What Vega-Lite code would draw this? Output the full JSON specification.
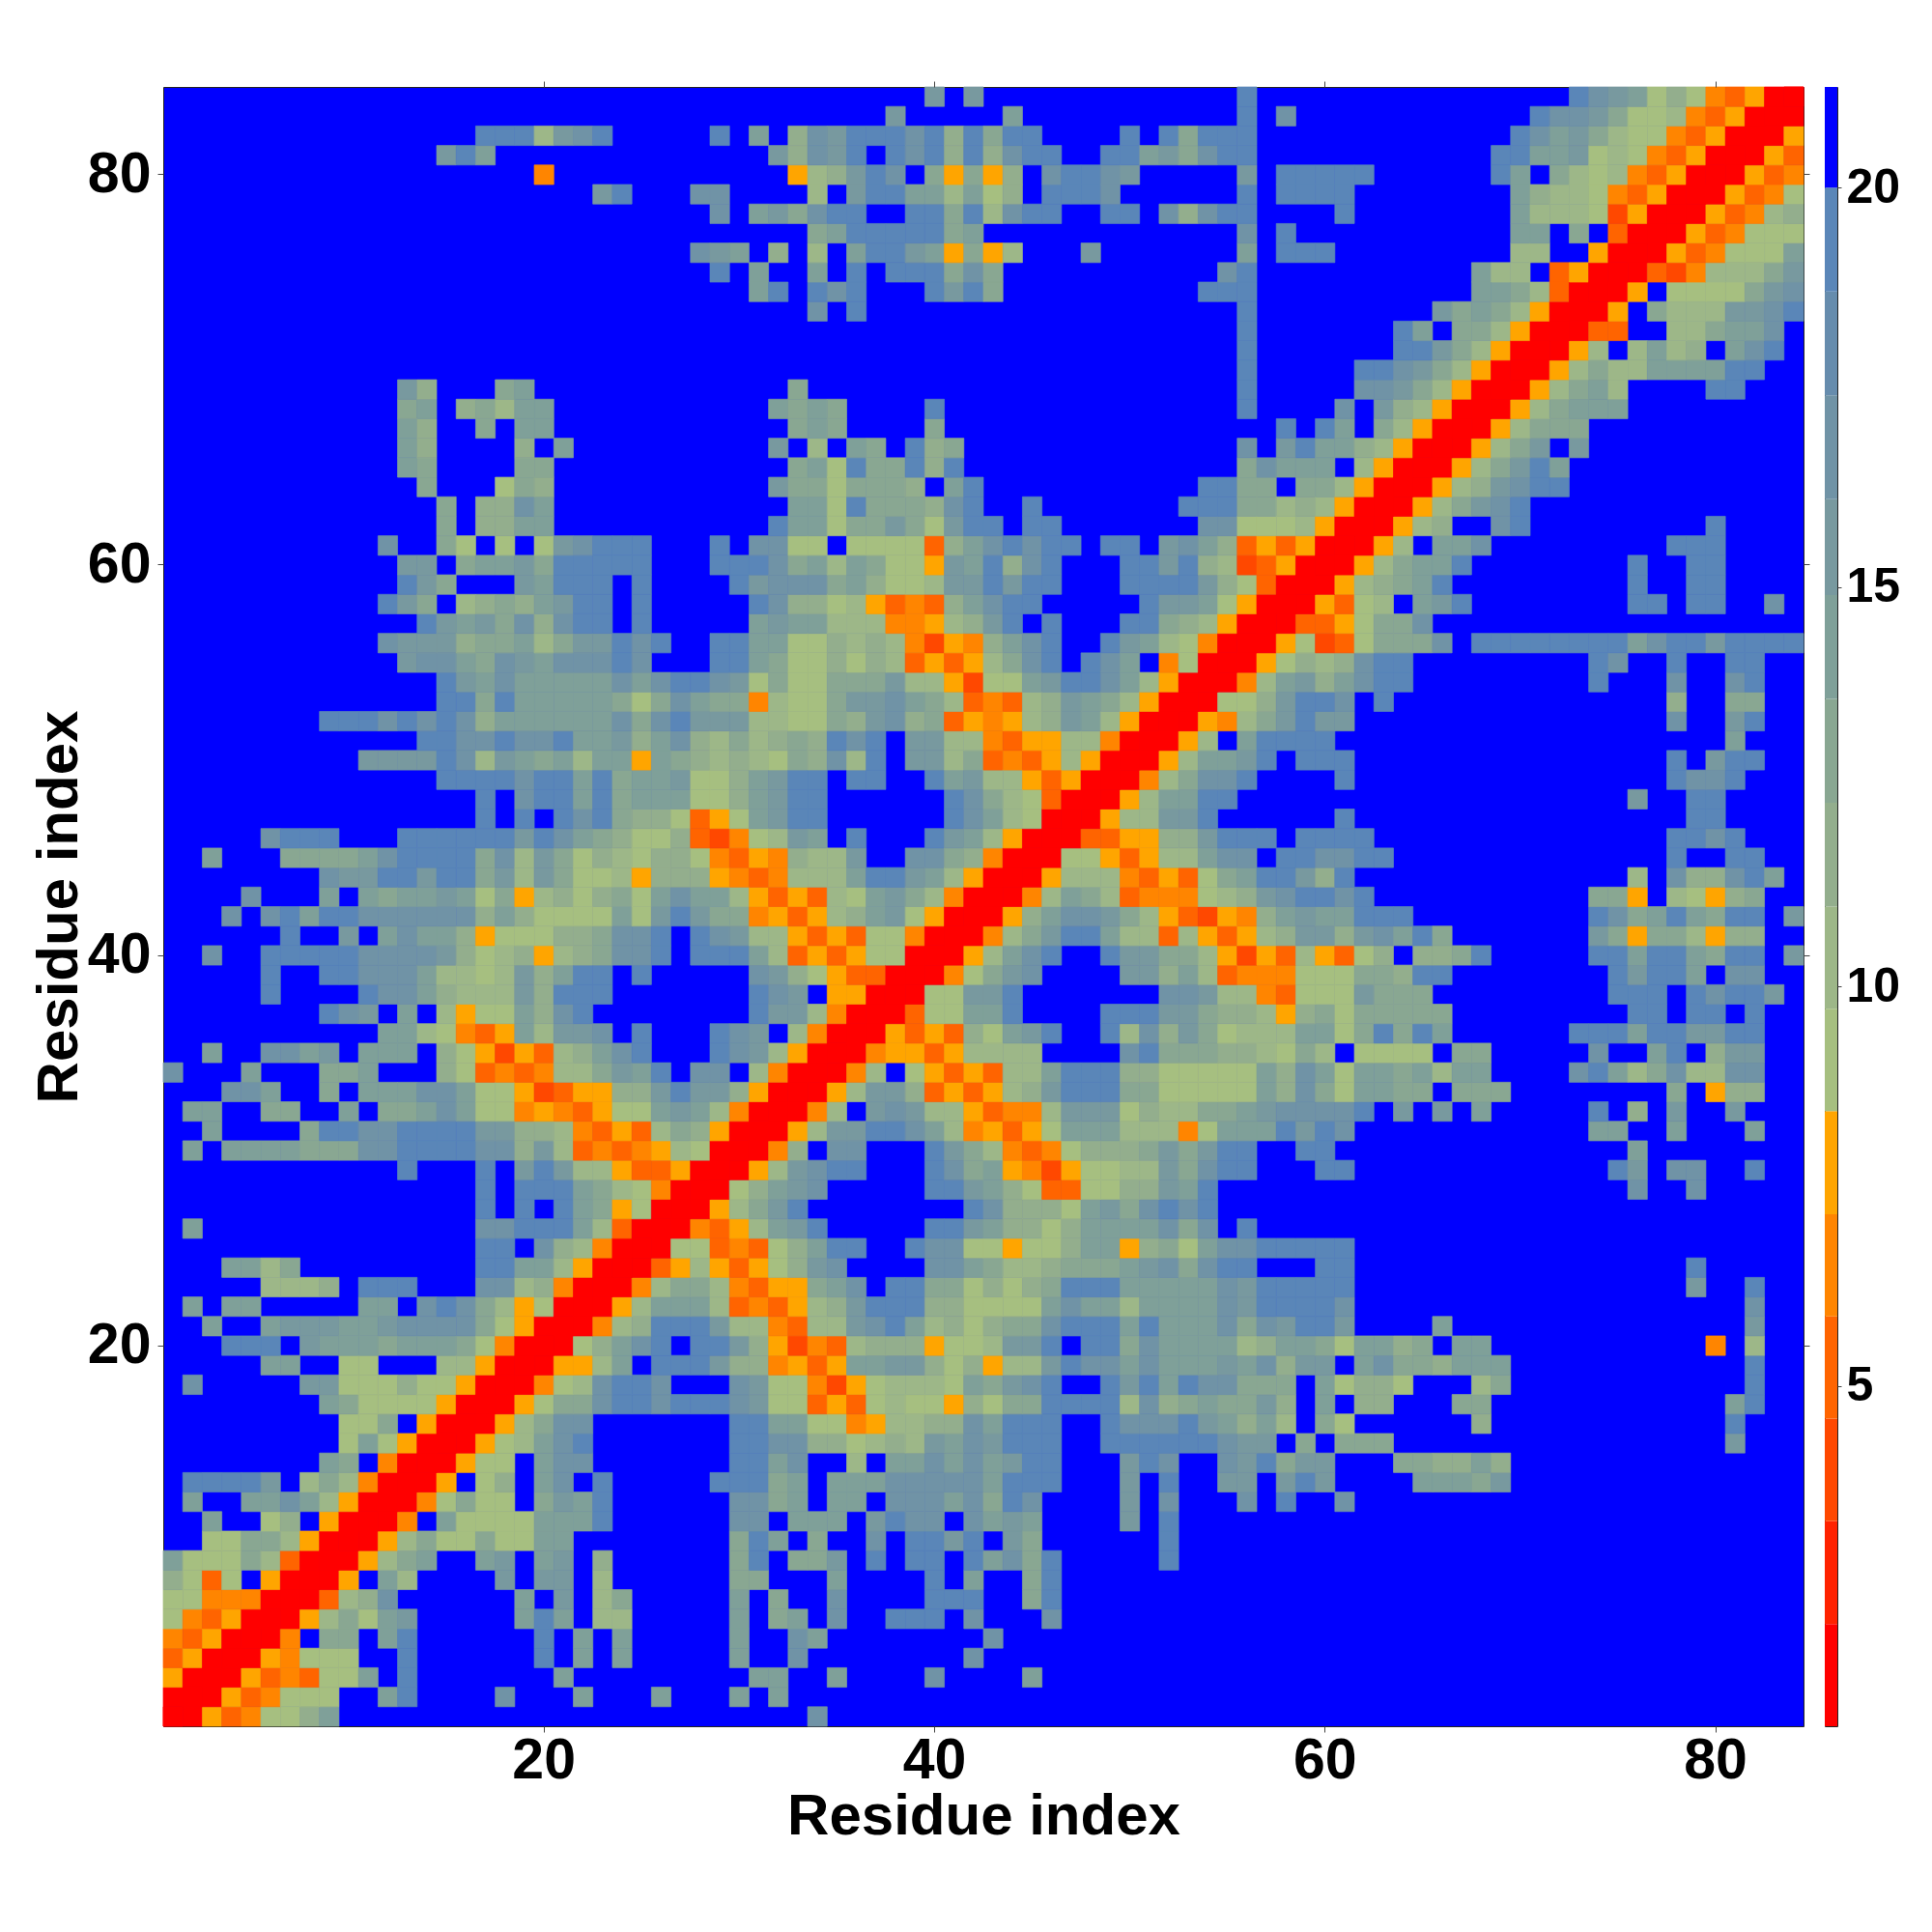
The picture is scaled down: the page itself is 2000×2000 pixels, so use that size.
{"$schema":"https://vega.github.io/schema/vega-lite/v6.json","padding":{"left":30,"top":83,"right":0,"bottom":0},"background":"white","spacing":14,"datasets":{"cells":[
{"x":1,"y":1,"d":1},{"x":2,"y":1,"d":1},{"x":3,"y":1,"d":8},{"x":4,"y":1,"d":5},{"x":5,"y":1,"d":7},{"x":6,"y":1,"d":9},{"x":7,"y":1,"d":9},{"x":8,"y":1,"d":12},{"x":9,"y":1,"d":14},{"x":34,"y":1,"d":17},
{"x":2,"y":2,"d":1},{"x":3,"y":2,"d":1},{"x":4,"y":2,"d":8},{"x":5,"y":2,"d":5},{"x":6,"y":2,"d":7},{"x":7,"y":2,"d":9},{"x":8,"y":2,"d":9},{"x":9,"y":2,"d":9},{"x":12,"y":2,"d":14},{"x":13,"y":2,"d":19},{"x":18,"y":2,"d":17},{"x":22,"y":2,"d":14},{"x":26,"y":2,"d":14},{"x":30,"y":2,"d":14},{"x":32,"y":2,"d":14},
{"x":3,"y":3,"d":1},{"x":4,"y":3,"d":1},{"x":5,"y":3,"d":8},{"x":6,"y":3,"d":5},{"x":7,"y":3,"d":7},{"x":8,"y":3,"d":5},{"x":9,"y":3,"d":9},{"x":10,"y":3,"d":9},{"x":11,"y":3,"d":14},{"x":13,"y":3,"d":19},{"x":21,"y":3,"d":14},{"x":31,"y":3,"d":14},{"x":32,"y":3,"d":14},{"x":35,"y":3,"d":14},{"x":40,"y":3,"d":17},{"x":45,"y":3,"d":14},
{"x":4,"y":4,"d":1},{"x":5,"y":4,"d":1},{"x":6,"y":4,"d":8},{"x":7,"y":4,"d":7},{"x":8,"y":4,"d":9},{"x":9,"y":4,"d":9},{"x":10,"y":4,"d":9},{"x":13,"y":4,"d":19},{"x":20,"y":4,"d":19},{"x":22,"y":4,"d":14},{"x":24,"y":4,"d":14},{"x":30,"y":4,"d":14},{"x":33,"y":4,"d":17},{"x":42,"y":4,"d":17},
{"x":5,"y":5,"d":1},{"x":6,"y":5,"d":1},{"x":7,"y":5,"d":7},{"x":9,"y":5,"d":13},{"x":10,"y":5,"d":13},{"x":12,"y":5,"d":14},{"x":13,"y":5,"d":19},{"x":20,"y":5,"d":19},{"x":22,"y":5,"d":14},{"x":24,"y":5,"d":14},{"x":30,"y":5,"d":14},{"x":33,"y":5,"d":17},{"x":34,"y":5,"d":14},{"x":43,"y":5,"d":17},
{"x":6,"y":6,"d":1},{"x":7,"y":6,"d":1},{"x":8,"y":6,"d":8},{"x":9,"y":6,"d":10},{"x":10,"y":6,"d":13},{"x":11,"y":6,"d":9},{"x":12,"y":6,"d":14},{"x":13,"y":6,"d":16},{"x":19,"y":6,"d":14},{"x":20,"y":6,"d":19},{"x":21,"y":6,"d":14},{"x":23,"y":6,"d":10},{"x":24,"y":6,"d":10},{"x":30,"y":6,"d":14},{"x":32,"y":6,"d":13},{"x":33,"y":6,"d":14},{"x":35,"y":6,"d":17},{"x":38,"y":6,"d":19},{"x":39,"y":6,"d":19},{"x":40,"y":6,"d":19},{"x":42,"y":6,"d":17},{"x":46,"y":6,"d":17},
{"x":7,"y":7,"d":1},{"x":8,"y":7,"d":1},{"x":9,"y":7,"d":5},{"x":10,"y":7,"d":10},{"x":11,"y":7,"d":12},{"x":12,"y":7,"d":17},{"x":19,"y":7,"d":14},{"x":21,"y":7,"d":16},{"x":23,"y":7,"d":10},{"x":24,"y":7,"d":13},{"x":30,"y":7,"d":14},{"x":32,"y":7,"d":13},{"x":35,"y":7,"d":17},{"x":40,"y":7,"d":19},{"x":41,"y":7,"d":19},{"x":42,"y":7,"d":19},{"x":45,"y":7,"d":13},{"x":46,"y":7,"d":19},
{"x":8,"y":8,"d":1},{"x":9,"y":8,"d":1},{"x":10,"y":8,"d":8},{"x":12,"y":8,"d":14},{"x":13,"y":8,"d":10},{"x":18,"y":8,"d":16},{"x":20,"y":8,"d":16},{"x":21,"y":8,"d":16},{"x":23,"y":8,"d":10},{"x":30,"y":8,"d":13},{"x":31,"y":8,"d":13},{"x":35,"y":8,"d":14},{"x":40,"y":8,"d":19},{"x":42,"y":8,"d":14},{"x":45,"y":8,"d":13},{"x":46,"y":8,"d":19},
{"x":9,"y":9,"d":1},{"x":10,"y":9,"d":1},{"x":11,"y":9,"d":8},{"x":12,"y":9,"d":10},{"x":13,"y":9,"d":13},{"x":14,"y":9,"d":14},{"x":17,"y":9,"d":14},{"x":18,"y":9,"d":16},{"x":20,"y":9,"d":14},{"x":21,"y":9,"d":16},{"x":23,"y":9,"d":12},{"x":30,"y":9,"d":13},{"x":31,"y":9,"d":19},{"x":33,"y":9,"d":13},{"x":34,"y":9,"d":13},{"x":35,"y":9,"d":16},{"x":37,"y":9,"d":19},{"x":39,"y":9,"d":19},{"x":40,"y":9,"d":19},{"x":42,"y":9,"d":19},{"x":43,"y":9,"d":14},{"x":44,"y":9,"d":17},{"x":45,"y":9,"d":13},{"x":46,"y":9,"d":19},{"x":52,"y":9,"d":19},
{"x":10,"y":10,"d":1},{"x":11,"y":10,"d":1},{"x":12,"y":10,"d":8},{"x":13,"y":10,"d":10},{"x":14,"y":10,"d":13},{"x":15,"y":10,"d":9},{"x":16,"y":10,"d":9},{"x":17,"y":10,"d":13},{"x":18,"y":10,"d":9},{"x":19,"y":10,"d":9},{"x":20,"y":10,"d":14},{"x":21,"y":10,"d":14},{"x":30,"y":10,"d":13},{"x":31,"y":10,"d":19},{"x":32,"y":10,"d":14},{"x":34,"y":10,"d":13},{"x":37,"y":10,"d":17},{"x":39,"y":10,"d":19},{"x":40,"y":10,"d":19},{"x":41,"y":10,"d":16},{"x":42,"y":10,"d":19},{"x":44,"y":10,"d":16},{"x":45,"y":10,"d":13},{"x":52,"y":10,"d":19},
{"x":11,"y":11,"d":1},{"x":12,"y":11,"d":1},{"x":13,"y":11,"d":7},{"x":15,"y":11,"d":14},{"x":16,"y":11,"d":9},{"x":17,"y":11,"d":9},{"x":18,"y":11,"d":9},{"x":19,"y":11,"d":9},{"x":20,"y":11,"d":14},{"x":21,"y":11,"d":14},{"x":22,"y":11,"d":14},{"x":23,"y":11,"d":19},{"x":30,"y":11,"d":17},{"x":31,"y":11,"d":17},{"x":33,"y":11,"d":14},{"x":34,"y":11,"d":14},{"x":35,"y":11,"d":14},{"x":37,"y":11,"d":16},{"x":38,"y":11,"d":19},{"x":39,"y":11,"d":17},{"x":40,"y":11,"d":17},{"x":42,"y":11,"d":17},{"x":43,"y":11,"d":14},{"x":44,"y":11,"d":16},{"x":45,"y":11,"d":14},{"x":50,"y":11,"d":16},{"x":52,"y":11,"d":19},
{"x":12,"y":12,"d":1},{"x":13,"y":12,"d":1},{"x":14,"y":12,"d":7},{"x":15,"y":12,"d":9},{"x":16,"y":12,"d":13},{"x":17,"y":12,"d":9},{"x":18,"y":12,"d":9},{"x":20,"y":12,"d":13},{"x":21,"y":12,"d":16},{"x":22,"y":12,"d":14},{"x":23,"y":12,"d":19},{"x":30,"y":12,"d":17},{"x":31,"y":12,"d":17},{"x":32,"y":12,"d":13},{"x":33,"y":12,"d":14},{"x":35,"y":12,"d":14},{"x":36,"y":12,"d":14},{"x":38,"y":12,"d":17},{"x":39,"y":12,"d":17},{"x":40,"y":12,"d":17},{"x":41,"y":12,"d":14},{"x":42,"y":12,"d":17},{"x":43,"y":12,"d":13},{"x":44,"y":12,"d":19},{"x":45,"y":12,"d":17},{"x":50,"y":12,"d":16},{"x":52,"y":12,"d":17},{"x":56,"y":12,"d":17},{"x":58,"y":12,"d":19},{"x":61,"y":12,"d":17},
{"x":13,"y":13,"d":1},{"x":14,"y":13,"d":1},{"x":15,"y":13,"d":8},{"x":17,"y":13,"d":9},{"x":18,"y":13,"d":12},{"x":20,"y":13,"d":14},{"x":21,"y":13,"d":17},{"x":23,"y":13,"d":19},{"x":29,"y":13,"d":19},{"x":30,"y":13,"d":19},{"x":31,"y":13,"d":19},{"x":32,"y":13,"d":13},{"x":33,"y":13,"d":14},{"x":35,"y":13,"d":14},{"x":36,"y":13,"d":14},{"x":37,"y":13,"d":14},{"x":38,"y":13,"d":17},{"x":39,"y":13,"d":17},{"x":40,"y":13,"d":17},{"x":41,"y":13,"d":17},{"x":42,"y":13,"d":17},{"x":43,"y":13,"d":14},{"x":44,"y":13,"d":19},{"x":45,"y":13,"d":19},{"x":46,"y":13,"d":19},{"x":50,"y":13,"d":16},{"x":52,"y":13,"d":19},{"x":55,"y":13,"d":16},{"x":56,"y":13,"d":16},{"x":58,"y":13,"d":16},{"x":59,"y":13,"d":19},{"x":60,"y":13,"d":16},{"x":65,"y":13,"d":14},{"x":66,"y":13,"d":14},{"x":67,"y":13,"d":14},{"x":68,"y":13,"d":13},{"x":69,"y":13,"d":16},
{"x":14,"y":14,"d":1},{"x":15,"y":14,"d":1},{"x":16,"y":14,"d":8},{"x":17,"y":14,"d":9},{"x":18,"y":14,"d":9},{"x":20,"y":14,"d":14},{"x":21,"y":14,"d":17},{"x":22,"y":14,"d":17},{"x":30,"y":14,"d":19},{"x":31,"y":14,"d":19},{"x":32,"y":14,"d":14},{"x":33,"y":14,"d":17},{"x":36,"y":14,"d":10},{"x":38,"y":14,"d":14},{"x":39,"y":14,"d":14},{"x":40,"y":14,"d":17},{"x":41,"y":14,"d":14},{"x":42,"y":14,"d":17},{"x":43,"y":14,"d":14},{"x":44,"y":14,"d":16},{"x":45,"y":14,"d":19},{"x":46,"y":14,"d":19},{"x":50,"y":14,"d":16},{"x":51,"y":14,"d":19},{"x":52,"y":14,"d":17},{"x":55,"y":14,"d":17},{"x":56,"y":14,"d":16},{"x":57,"y":14,"d":19},{"x":58,"y":14,"d":13},{"x":59,"y":14,"d":16},{"x":60,"y":14,"d":16},{"x":64,"y":14,"d":13},{"x":65,"y":14,"d":13},{"x":66,"y":14,"d":12},{"x":67,"y":14,"d":12},{"x":68,"y":14,"d":14},{"x":69,"y":14,"d":12},
{"x":15,"y":15,"d":1},{"x":16,"y":15,"d":1},{"x":17,"y":15,"d":8},{"x":18,"y":15,"d":9},{"x":19,"y":15,"d":10},{"x":20,"y":15,"d":14},{"x":21,"y":15,"d":17},{"x":22,"y":15,"d":19},{"x":30,"y":15,"d":19},{"x":31,"y":15,"d":19},{"x":32,"y":15,"d":17},{"x":33,"y":15,"d":17},{"x":34,"y":15,"d":12},{"x":35,"y":15,"d":12},{"x":36,"y":15,"d":9},{"x":37,"y":15,"d":10},{"x":38,"y":15,"d":12},{"x":39,"y":15,"d":10},{"x":40,"y":15,"d":16},{"x":41,"y":15,"d":14},{"x":42,"y":15,"d":17},{"x":43,"y":15,"d":16},{"x":44,"y":15,"d":19},{"x":45,"y":15,"d":19},{"x":46,"y":15,"d":19},{"x":49,"y":15,"d":19},{"x":50,"y":15,"d":19},{"x":51,"y":15,"d":19},{"x":52,"y":15,"d":19},{"x":53,"y":15,"d":19},{"x":54,"y":15,"d":19},{"x":55,"y":15,"d":17},{"x":56,"y":15,"d":16},{"x":57,"y":15,"d":16},{"x":59,"y":15,"d":13},{"x":61,"y":15,"d":13},{"x":62,"y":15,"d":13},{"x":63,"y":15,"d":13},{"x":81,"y":15,"d":16},
{"x":16,"y":16,"d":1},{"x":17,"y":16,"d":1},{"x":18,"y":16,"d":8},{"x":19,"y":16,"d":10},{"x":20,"y":16,"d":13},{"x":21,"y":16,"d":17},{"x":22,"y":16,"d":17},{"x":30,"y":16,"d":19},{"x":31,"y":16,"d":19},{"x":32,"y":16,"d":14},{"x":33,"y":16,"d":14},{"x":34,"y":16,"d":9},{"x":35,"y":16,"d":9},{"x":36,"y":16,"d":7},{"x":37,"y":16,"d":8},{"x":38,"y":16,"d":10},{"x":39,"y":16,"d":10},{"x":40,"y":16,"d":12},{"x":41,"y":16,"d":12},{"x":42,"y":16,"d":17},{"x":43,"y":16,"d":14},{"x":44,"y":16,"d":19},{"x":45,"y":16,"d":19},{"x":46,"y":16,"d":19},{"x":49,"y":16,"d":19},{"x":50,"y":16,"d":17},{"x":51,"y":16,"d":17},{"x":52,"y":16,"d":17},{"x":53,"y":16,"d":19},{"x":54,"y":16,"d":16},{"x":55,"y":16,"d":14},{"x":56,"y":16,"d":12},{"x":57,"y":16,"d":14},{"x":58,"y":16,"d":10},{"x":60,"y":16,"d":13},{"x":61,"y":16,"d":9},{"x":68,"y":16,"d":12},{"x":81,"y":16,"d":19},
{"x":17,"y":17,"d":1},{"x":18,"y":17,"d":1},{"x":19,"y":17,"d":8},{"x":20,"y":17,"d":9},{"x":21,"y":17,"d":13},{"x":22,"y":17,"d":13},{"x":23,"y":17,"d":17},{"x":24,"y":17,"d":19},{"x":25,"y":17,"d":19},{"x":26,"y":17,"d":17},{"x":27,"y":17,"d":19},{"x":28,"y":17,"d":19},{"x":29,"y":17,"d":19},{"x":30,"y":17,"d":17},{"x":31,"y":17,"d":16},{"x":32,"y":17,"d":9},{"x":33,"y":17,"d":9},{"x":34,"y":17,"d":5},{"x":35,"y":17,"d":8},{"x":36,"y":17,"d":5},{"x":37,"y":17,"d":9},{"x":38,"y":17,"d":10},{"x":39,"y":17,"d":9},{"x":40,"y":17,"d":9},{"x":41,"y":17,"d":8},{"x":42,"y":17,"d":12},{"x":43,"y":17,"d":9},{"x":44,"y":17,"d":13},{"x":45,"y":17,"d":13},{"x":46,"y":17,"d":19},{"x":47,"y":17,"d":19},{"x":48,"y":17,"d":19},{"x":49,"y":17,"d":19},{"x":50,"y":17,"d":10},{"x":51,"y":17,"d":17},{"x":52,"y":17,"d":12},{"x":53,"y":17,"d":13},{"x":54,"y":17,"d":14},{"x":55,"y":17,"d":13},{"x":56,"y":17,"d":13},{"x":57,"y":17,"d":16},{"x":58,"y":17,"d":12},{"x":60,"y":17,"d":14},{"x":62,"y":17,"d":12},{"x":63,"y":17,"d":12},{"x":67,"y":17,"d":13},{"x":68,"y":17,"d":13},{"x":81,"y":17,"d":14},{"x":82,"y":17,"d":19},
{"x":18,"y":18,"d":1},{"x":19,"y":18,"d":1},{"x":20,"y":18,"d":7},{"x":21,"y":18,"d":9},{"x":22,"y":18,"d":10},{"x":23,"y":18,"d":17},{"x":24,"y":18,"d":19},{"x":25,"y":18,"d":19},{"x":26,"y":18,"d":17},{"x":30,"y":18,"d":17},{"x":31,"y":18,"d":16},{"x":32,"y":18,"d":9},{"x":33,"y":18,"d":9},{"x":34,"y":18,"d":7},{"x":35,"y":18,"d":4},{"x":36,"y":18,"d":8},{"x":37,"y":18,"d":9},{"x":38,"y":18,"d":10},{"x":39,"y":18,"d":10},{"x":40,"y":18,"d":10},{"x":41,"y":18,"d":9},{"x":42,"y":18,"d":14},{"x":43,"y":18,"d":13},{"x":44,"y":18,"d":16},{"x":45,"y":18,"d":17},{"x":46,"y":18,"d":19},{"x":49,"y":18,"d":19},{"x":50,"y":18,"d":16},{"x":51,"y":18,"d":19},{"x":52,"y":18,"d":14},{"x":53,"y":18,"d":19},{"x":54,"y":18,"d":17},{"x":55,"y":18,"d":17},{"x":56,"y":18,"d":13},{"x":57,"y":18,"d":13},{"x":58,"y":18,"d":13},{"x":60,"y":18,"d":14},{"x":61,"y":18,"d":9},{"x":62,"y":18,"d":12},{"x":63,"y":18,"d":12},{"x":64,"y":18,"d":9},{"x":68,"y":18,"d":10},{"x":69,"y":18,"d":13},{"x":82,"y":18,"d":19},
{"x":19,"y":19,"d":1},{"x":20,"y":19,"d":1},{"x":21,"y":19,"d":8},{"x":22,"y":19,"d":8},{"x":23,"y":19,"d":10},{"x":24,"y":19,"d":14},{"x":26,"y":19,"d":19},{"x":27,"y":19,"d":19},{"x":28,"y":19,"d":19},{"x":29,"y":19,"d":16},{"x":30,"y":19,"d":12},{"x":31,"y":19,"d":12},{"x":32,"y":19,"d":7},{"x":33,"y":19,"d":8},{"x":34,"y":19,"d":5},{"x":35,"y":19,"d":8},{"x":36,"y":19,"d":14},{"x":37,"y":19,"d":14},{"x":38,"y":19,"d":16},{"x":39,"y":19,"d":16},{"x":40,"y":19,"d":12},{"x":41,"y":19,"d":9},{"x":42,"y":19,"d":12},{"x":43,"y":19,"d":8},{"x":44,"y":19,"d":10},{"x":45,"y":19,"d":10},{"x":46,"y":19,"d":16},{"x":47,"y":19,"d":19},{"x":48,"y":19,"d":17},{"x":49,"y":19,"d":17},{"x":50,"y":19,"d":14},{"x":51,"y":19,"d":17},{"x":52,"y":19,"d":14},{"x":53,"y":19,"d":14},{"x":54,"y":19,"d":14},{"x":55,"y":19,"d":16},{"x":56,"y":19,"d":14},{"x":57,"y":19,"d":17},{"x":58,"y":19,"d":12},{"x":59,"y":19,"d":16},{"x":60,"y":19,"d":16},{"x":62,"y":19,"d":14},{"x":63,"y":19,"d":17},{"x":64,"y":19,"d":13},{"x":65,"y":19,"d":13},{"x":66,"y":19,"d":12},{"x":67,"y":19,"d":14},{"x":68,"y":19,"d":14},{"x":69,"y":19,"d":14},{"x":82,"y":19,"d":19},
{"x":20,"y":20,"d":1},{"x":21,"y":20,"d":1},{"x":22,"y":20,"d":9},{"x":23,"y":20,"d":12},{"x":24,"y":20,"d":14},{"x":25,"y":20,"d":17},{"x":26,"y":20,"d":19},{"x":28,"y":20,"d":19},{"x":29,"y":20,"d":19},{"x":30,"y":20,"d":16},{"x":31,"y":20,"d":12},{"x":32,"y":20,"d":8},{"x":33,"y":20,"d":4},{"x":34,"y":20,"d":7},{"x":35,"y":20,"d":5},{"x":36,"y":20,"d":10},{"x":37,"y":20,"d":12},{"x":38,"y":20,"d":12},{"x":39,"y":20,"d":12},{"x":40,"y":20,"d":8},{"x":41,"y":20,"d":9},{"x":42,"y":20,"d":9},{"x":43,"y":20,"d":10},{"x":44,"y":20,"d":16},{"x":45,"y":20,"d":16},{"x":46,"y":20,"d":19},{"x":48,"y":20,"d":19},{"x":49,"y":20,"d":19},{"x":50,"y":20,"d":13},{"x":51,"y":20,"d":17},{"x":52,"y":20,"d":14},{"x":53,"y":20,"d":14},{"x":54,"y":20,"d":14},{"x":55,"y":20,"d":14},{"x":56,"y":20,"d":10},{"x":57,"y":20,"d":12},{"x":58,"y":20,"d":14},{"x":59,"y":20,"d":14},{"x":60,"y":20,"d":13},{"x":61,"y":20,"d":9},{"x":62,"y":20,"d":14},{"x":63,"y":20,"d":14},{"x":64,"y":20,"d":12},{"x":65,"y":20,"d":13},{"x":67,"y":20,"d":14},{"x":68,"y":20,"d":14},{"x":80,"y":20,"d":7},{"x":82,"y":20,"d":10},
{"x":21,"y":21,"d":1},{"x":22,"y":21,"d":1},{"x":23,"y":21,"d":7},{"x":24,"y":21,"d":10},{"x":25,"y":21,"d":12},{"x":26,"y":21,"d":19},{"x":27,"y":21,"d":19},{"x":28,"y":21,"d":19},{"x":29,"y":21,"d":16},{"x":30,"y":21,"d":10},{"x":31,"y":21,"d":10},{"x":32,"y":21,"d":7},{"x":33,"y":21,"d":5},{"x":34,"y":21,"d":10},{"x":35,"y":21,"d":10},{"x":36,"y":21,"d":16},{"x":37,"y":21,"d":17},{"x":38,"y":21,"d":19},{"x":39,"y":21,"d":14},{"x":40,"y":21,"d":10},{"x":41,"y":21,"d":12},{"x":42,"y":21,"d":9},{"x":43,"y":21,"d":12},{"x":44,"y":21,"d":13},{"x":45,"y":21,"d":13},{"x":46,"y":21,"d":17},{"x":47,"y":21,"d":19},{"x":48,"y":21,"d":19},{"x":49,"y":21,"d":19},{"x":50,"y":21,"d":14},{"x":51,"y":21,"d":19},{"x":52,"y":21,"d":14},{"x":53,"y":21,"d":14},{"x":54,"y":21,"d":14},{"x":55,"y":21,"d":17},{"x":56,"y":21,"d":13},{"x":57,"y":21,"d":17},{"x":58,"y":21,"d":16},{"x":59,"y":21,"d":19},{"x":60,"y":21,"d":19},{"x":61,"y":21,"d":16},{"x":66,"y":21,"d":14},{"x":82,"y":21,"d":16},
{"x":22,"y":22,"d":1},{"x":23,"y":22,"d":1},{"x":24,"y":22,"d":8},{"x":25,"y":22,"d":10},{"x":26,"y":22,"d":14},{"x":27,"y":22,"d":14},{"x":28,"y":22,"d":14},{"x":29,"y":22,"d":10},{"x":30,"y":22,"d":5},{"x":31,"y":22,"d":7},{"x":32,"y":22,"d":5},{"x":33,"y":22,"d":8},{"x":34,"y":22,"d":10},{"x":35,"y":22,"d":12},{"x":36,"y":22,"d":16},{"x":37,"y":22,"d":19},{"x":38,"y":22,"d":19},{"x":39,"y":22,"d":19},{"x":40,"y":22,"d":12},{"x":41,"y":22,"d":12},{"x":42,"y":22,"d":9},{"x":43,"y":22,"d":9},{"x":44,"y":22,"d":9},{"x":45,"y":22,"d":9},{"x":46,"y":22,"d":14},{"x":47,"y":22,"d":17},{"x":48,"y":22,"d":14},{"x":49,"y":22,"d":14},{"x":50,"y":22,"d":10},{"x":51,"y":22,"d":14},{"x":52,"y":22,"d":14},{"x":53,"y":22,"d":14},{"x":54,"y":22,"d":14},{"x":55,"y":22,"d":17},{"x":56,"y":22,"d":16},{"x":57,"y":22,"d":19},{"x":58,"y":22,"d":19},{"x":59,"y":22,"d":19},{"x":60,"y":22,"d":19},{"x":61,"y":22,"d":17},{"x":82,"y":22,"d":17},
{"x":23,"y":23,"d":1},{"x":24,"y":23,"d":1},{"x":25,"y":23,"d":7},{"x":26,"y":23,"d":10},{"x":27,"y":23,"d":13},{"x":28,"y":23,"d":13},{"x":29,"y":23,"d":10},{"x":30,"y":23,"d":7},{"x":31,"y":23,"d":5},{"x":32,"y":23,"d":8},{"x":33,"y":23,"d":8},{"x":34,"y":23,"d":13},{"x":35,"y":23,"d":14},{"x":36,"y":23,"d":17},{"x":38,"y":23,"d":19},{"x":39,"y":23,"d":19},{"x":40,"y":23,"d":13},{"x":41,"y":23,"d":13},{"x":42,"y":23,"d":9},{"x":43,"y":23,"d":12},{"x":44,"y":23,"d":9},{"x":45,"y":23,"d":12},{"x":46,"y":23,"d":13},{"x":47,"y":23,"d":19},{"x":48,"y":23,"d":19},{"x":49,"y":23,"d":19},{"x":50,"y":23,"d":14},{"x":51,"y":23,"d":14},{"x":52,"y":23,"d":14},{"x":53,"y":23,"d":14},{"x":54,"y":23,"d":14},{"x":55,"y":23,"d":17},{"x":56,"y":23,"d":16},{"x":57,"y":23,"d":19},{"x":58,"y":23,"d":19},{"x":59,"y":23,"d":19},{"x":60,"y":23,"d":19},{"x":61,"y":23,"d":19},{"x":79,"y":23,"d":16},{"x":82,"y":23,"d":19},
{"x":24,"y":24,"d":1},{"x":25,"y":24,"d":1},{"x":26,"y":24,"d":5},{"x":27,"y":24,"d":8},{"x":28,"y":24,"d":10},{"x":29,"y":24,"d":8},{"x":30,"y":24,"d":5},{"x":31,"y":24,"d":8},{"x":32,"y":24,"d":9},{"x":33,"y":24,"d":12},{"x":34,"y":24,"d":16},{"x":35,"y":24,"d":17},{"x":40,"y":24,"d":17},{"x":41,"y":24,"d":17},{"x":42,"y":24,"d":14},{"x":43,"y":24,"d":13},{"x":44,"y":24,"d":10},{"x":45,"y":24,"d":10},{"x":46,"y":24,"d":12},{"x":47,"y":24,"d":13},{"x":48,"y":24,"d":13},{"x":49,"y":24,"d":13},{"x":50,"y":24,"d":14},{"x":51,"y":24,"d":16},{"x":52,"y":24,"d":17},{"x":53,"y":24,"d":13},{"x":54,"y":24,"d":17},{"x":55,"y":24,"d":19},{"x":56,"y":24,"d":19},{"x":60,"y":24,"d":19},{"x":61,"y":24,"d":19},{"x":79,"y":24,"d":19},
{"x":25,"y":25,"d":1},{"x":26,"y":25,"d":1},{"x":27,"y":25,"d":9},{"x":28,"y":25,"d":9},{"x":29,"y":25,"d":5},{"x":30,"y":25,"d":7},{"x":31,"y":25,"d":5},{"x":32,"y":25,"d":9},{"x":33,"y":25,"d":12},{"x":34,"y":25,"d":14},{"x":35,"y":25,"d":19},{"x":36,"y":25,"d":19},{"x":39,"y":25,"d":19},{"x":40,"y":25,"d":17},{"x":41,"y":25,"d":17},{"x":42,"y":25,"d":9},{"x":43,"y":25,"d":9},{"x":44,"y":25,"d":8},{"x":45,"y":25,"d":9},{"x":46,"y":25,"d":9},{"x":47,"y":25,"d":12},{"x":48,"y":25,"d":14},{"x":49,"y":25,"d":14},{"x":50,"y":25,"d":8},{"x":51,"y":25,"d":12},{"x":52,"y":25,"d":13},{"x":53,"y":25,"d":9},{"x":54,"y":25,"d":14},{"x":55,"y":25,"d":17},{"x":56,"y":25,"d":17},{"x":57,"y":25,"d":19},{"x":58,"y":25,"d":19},{"x":59,"y":25,"d":19},{"x":60,"y":25,"d":19},{"x":61,"y":25,"d":19},
{"x":26,"y":26,"d":1},{"x":27,"y":26,"d":1},{"x":28,"y":26,"d":7},{"x":29,"y":26,"d":5},{"x":30,"y":26,"d":8},{"x":31,"y":26,"d":10},{"x":32,"y":26,"d":14},{"x":33,"y":26,"d":16},{"x":34,"y":26,"d":19},{"x":40,"y":26,"d":19},{"x":41,"y":26,"d":19},{"x":42,"y":26,"d":16},{"x":43,"y":26,"d":14},{"x":44,"y":26,"d":12},{"x":45,"y":26,"d":12},{"x":46,"y":26,"d":9},{"x":47,"y":26,"d":12},{"x":48,"y":26,"d":14},{"x":49,"y":26,"d":14},{"x":50,"y":26,"d":14},{"x":51,"y":26,"d":14},{"x":52,"y":26,"d":17},{"x":53,"y":26,"d":13},{"x":54,"y":26,"d":17},{"x":56,"y":26,"d":19},
{"x":27,"y":27,"d":1},{"x":28,"y":27,"d":1},{"x":29,"y":27,"d":8},{"x":30,"y":27,"d":10},{"x":31,"y":27,"d":13},{"x":32,"y":27,"d":16},{"x":33,"y":27,"d":19},{"x":42,"y":27,"d":19},{"x":43,"y":27,"d":17},{"x":44,"y":27,"d":12},{"x":45,"y":27,"d":12},{"x":46,"y":27,"d":12},{"x":47,"y":27,"d":9},{"x":48,"y":27,"d":14},{"x":49,"y":27,"d":16},{"x":50,"y":27,"d":13},{"x":51,"y":27,"d":17},{"x":52,"y":27,"d":19},{"x":53,"y":27,"d":17},{"x":54,"y":27,"d":19},
{"x":28,"y":28,"d":1},{"x":29,"y":28,"d":1},{"x":30,"y":28,"d":9},{"x":31,"y":28,"d":12},{"x":32,"y":28,"d":14},{"x":33,"y":28,"d":16},{"x":34,"y":28,"d":17},{"x":40,"y":28,"d":19},{"x":41,"y":28,"d":19},{"x":42,"y":28,"d":16},{"x":43,"y":28,"d":14},{"x":44,"y":28,"d":12},{"x":45,"y":28,"d":9},{"x":46,"y":28,"d":5},{"x":47,"y":28,"d":5},{"x":48,"y":28,"d":9},{"x":49,"y":28,"d":9},{"x":50,"y":28,"d":12},{"x":51,"y":28,"d":12},{"x":52,"y":28,"d":16},{"x":53,"y":28,"d":14},{"x":54,"y":28,"d":19},{"x":76,"y":28,"d":17},{"x":79,"y":28,"d":17},
{"x":29,"y":29,"d":1},{"x":30,"y":29,"d":1},{"x":31,"y":29,"d":8},{"x":32,"y":29,"d":10},{"x":33,"y":29,"d":16},{"x":34,"y":29,"d":17},{"x":35,"y":29,"d":19},{"x":36,"y":29,"d":19},{"x":40,"y":29,"d":19},{"x":41,"y":29,"d":17},{"x":42,"y":29,"d":13},{"x":43,"y":29,"d":14},{"x":44,"y":29,"d":8},{"x":45,"y":29,"d":7},{"x":46,"y":29,"d":4},{"x":47,"y":29,"d":8},{"x":48,"y":29,"d":9},{"x":49,"y":29,"d":9},{"x":50,"y":29,"d":10},{"x":51,"y":29,"d":10},{"x":52,"y":29,"d":16},{"x":53,"y":29,"d":13},{"x":54,"y":29,"d":17},{"x":55,"y":29,"d":19},{"x":56,"y":29,"d":19},{"x":60,"y":29,"d":19},{"x":61,"y":29,"d":19},{"x":75,"y":29,"d":19},{"x":76,"y":29,"d":16},{"x":78,"y":29,"d":17},{"x":79,"y":29,"d":17},{"x":82,"y":29,"d":19},
{"x":30,"y":30,"d":1},{"x":31,"y":30,"d":1},{"x":32,"y":30,"d":7},{"x":33,"y":30,"d":12},{"x":35,"y":30,"d":17},{"x":36,"y":30,"d":17},{"x":40,"y":30,"d":19},{"x":41,"y":30,"d":16},{"x":42,"y":30,"d":13},{"x":43,"y":30,"d":10},{"x":44,"y":30,"d":7},{"x":45,"y":30,"d":5},{"x":46,"y":30,"d":7},{"x":47,"y":30,"d":9},{"x":48,"y":30,"d":12},{"x":49,"y":30,"d":12},{"x":50,"y":30,"d":12},{"x":51,"y":30,"d":13},{"x":52,"y":30,"d":16},{"x":53,"y":30,"d":13},{"x":54,"y":30,"d":16},{"x":55,"y":30,"d":19},{"x":56,"y":30,"d":19},{"x":59,"y":30,"d":19},{"x":60,"y":30,"d":19},{"x":76,"y":30,"d":14},
{"x":31,"y":31,"d":1},{"x":32,"y":31,"d":1},{"x":33,"y":31,"d":8},{"x":34,"y":31,"d":10},{"x":35,"y":31,"d":16},{"x":36,"y":31,"d":16},{"x":37,"y":31,"d":19},{"x":38,"y":31,"d":19},{"x":39,"y":31,"d":17},{"x":40,"y":31,"d":14},{"x":41,"y":31,"d":10},{"x":42,"y":31,"d":7},{"x":43,"y":31,"d":8},{"x":44,"y":31,"d":5},{"x":45,"y":31,"d":8},{"x":46,"y":31,"d":9},{"x":47,"y":31,"d":14},{"x":48,"y":31,"d":14},{"x":49,"y":31,"d":14},{"x":50,"y":31,"d":10},{"x":51,"y":31,"d":10},{"x":52,"y":31,"d":10},{"x":53,"y":31,"d":7},{"x":54,"y":31,"d":9},{"x":55,"y":31,"d":14},{"x":56,"y":31,"d":14},{"x":57,"y":31,"d":14},{"x":58,"y":31,"d":19},{"x":59,"y":31,"d":16},{"x":60,"y":31,"d":19},{"x":61,"y":31,"d":17},{"x":74,"y":31,"d":14},{"x":75,"y":31,"d":14},{"x":78,"y":31,"d":14},{"x":82,"y":31,"d":14},
{"x":32,"y":32,"d":1},{"x":33,"y":32,"d":1},{"x":34,"y":32,"d":7},{"x":35,"y":32,"d":10},{"x":37,"y":32,"d":16},{"x":38,"y":32,"d":17},{"x":39,"y":32,"d":16},{"x":40,"y":32,"d":10},{"x":41,"y":32,"d":10},{"x":42,"y":32,"d":8},{"x":43,"y":32,"d":5},{"x":44,"y":32,"d":7},{"x":45,"y":32,"d":7},{"x":46,"y":32,"d":10},{"x":47,"y":32,"d":16},{"x":48,"y":32,"d":16},{"x":49,"y":32,"d":16},{"x":50,"y":32,"d":9},{"x":51,"y":32,"d":12},{"x":52,"y":32,"d":10},{"x":53,"y":32,"d":10},{"x":54,"y":32,"d":13},{"x":55,"y":32,"d":13},{"x":56,"y":32,"d":14},{"x":57,"y":32,"d":16},{"x":58,"y":32,"d":17},{"x":59,"y":32,"d":17},{"x":60,"y":32,"d":17},{"x":61,"y":32,"d":17},{"x":62,"y":32,"d":19},{"x":64,"y":32,"d":16},{"x":66,"y":32,"d":16},{"x":68,"y":32,"d":14},{"x":74,"y":32,"d":19},{"x":76,"y":32,"d":12},{"x":78,"y":32,"d":16},{"x":81,"y":32,"d":16},
{"x":33,"y":33,"d":1},{"x":34,"y":33,"d":1},{"x":35,"y":33,"d":8},{"x":36,"y":33,"d":10},{"x":37,"y":33,"d":16},{"x":38,"y":33,"d":16},{"x":39,"y":33,"d":12},{"x":40,"y":33,"d":5},{"x":41,"y":33,"d":8},{"x":42,"y":33,"d":5},{"x":43,"y":33,"d":8},{"x":44,"y":33,"d":10},{"x":45,"y":33,"d":12},{"x":46,"y":33,"d":16},{"x":47,"y":33,"d":19},{"x":48,"y":33,"d":19},{"x":49,"y":33,"d":19},{"x":50,"y":33,"d":13},{"x":51,"y":33,"d":13},{"x":52,"y":33,"d":9},{"x":53,"y":33,"d":9},{"x":54,"y":33,"d":9},{"x":55,"y":33,"d":9},{"x":56,"y":33,"d":9},{"x":57,"y":33,"d":14},{"x":58,"y":33,"d":12},{"x":59,"y":33,"d":17},{"x":60,"y":33,"d":13},{"x":61,"y":33,"d":9},{"x":62,"y":33,"d":14},{"x":63,"y":33,"d":14},{"x":64,"y":33,"d":13},{"x":65,"y":33,"d":13},{"x":67,"y":33,"d":13},{"x":68,"y":33,"d":13},{"x":69,"y":33,"d":13},{"x":78,"y":33,"d":13},{"x":80,"y":33,"d":8},{"x":81,"y":33,"d":12},{"x":82,"y":33,"d":12},
{"x":34,"y":34,"d":1},{"x":35,"y":34,"d":1},{"x":36,"y":34,"d":7},{"x":37,"y":34,"d":10},{"x":39,"y":34,"d":9},{"x":40,"y":34,"d":8},{"x":41,"y":34,"d":5},{"x":42,"y":34,"d":8},{"x":43,"y":34,"d":5},{"x":44,"y":34,"d":10},{"x":45,"y":34,"d":10},{"x":46,"y":34,"d":14},{"x":47,"y":34,"d":19},{"x":48,"y":34,"d":19},{"x":49,"y":34,"d":19},{"x":50,"y":34,"d":12},{"x":51,"y":34,"d":12},{"x":52,"y":34,"d":9},{"x":53,"y":34,"d":9},{"x":54,"y":34,"d":9},{"x":55,"y":34,"d":9},{"x":56,"y":34,"d":9},{"x":57,"y":34,"d":14},{"x":58,"y":34,"d":12},{"x":59,"y":34,"d":17},{"x":60,"y":34,"d":14},{"x":61,"y":34,"d":9},{"x":62,"y":34,"d":14},{"x":63,"y":34,"d":14},{"x":64,"y":34,"d":13},{"x":65,"y":34,"d":14},{"x":66,"y":34,"d":10},{"x":67,"y":34,"d":14},{"x":68,"y":34,"d":14},{"x":73,"y":34,"d":17},{"x":74,"y":34,"d":19},{"x":75,"y":34,"d":14},{"x":76,"y":34,"d":10},{"x":77,"y":34,"d":13},{"x":78,"y":34,"d":17},{"x":79,"y":34,"d":10},{"x":80,"y":34,"d":10},{"x":81,"y":34,"d":17},{"x":82,"y":34,"d":17},
{"x":35,"y":35,"d":1},{"x":36,"y":35,"d":1},{"x":37,"y":35,"d":7},{"x":38,"y":35,"d":8},{"x":39,"y":35,"d":8},{"x":40,"y":35,"d":5},{"x":41,"y":35,"d":8},{"x":42,"y":35,"d":10},{"x":43,"y":35,"d":10},{"x":44,"y":35,"d":10},{"x":45,"y":35,"d":10},{"x":50,"y":35,"d":17},{"x":51,"y":35,"d":19},{"x":52,"y":35,"d":13},{"x":53,"y":35,"d":13},{"x":54,"y":35,"d":13},{"x":55,"y":35,"d":12},{"x":56,"y":35,"d":12},{"x":57,"y":35,"d":10},{"x":58,"y":35,"d":9},{"x":59,"y":35,"d":13},{"x":60,"y":35,"d":10},{"x":62,"y":35,"d":9},{"x":63,"y":35,"d":9},{"x":64,"y":35,"d":9},{"x":65,"y":35,"d":9},{"x":67,"y":35,"d":13},{"x":68,"y":35,"d":13},{"x":74,"y":35,"d":17},{"x":77,"y":35,"d":14},{"x":78,"y":35,"d":19},{"x":80,"y":35,"d":12},{"x":81,"y":35,"d":16},{"x":82,"y":35,"d":16},
{"x":36,"y":36,"d":1},{"x":37,"y":36,"d":1},{"x":38,"y":36,"d":8},{"x":39,"y":36,"d":5},{"x":40,"y":36,"d":8},{"x":41,"y":36,"d":5},{"x":42,"y":36,"d":12},{"x":43,"y":36,"d":9},{"x":44,"y":36,"d":14},{"x":45,"y":36,"d":16},{"x":46,"y":36,"d":19},{"x":49,"y":36,"d":19},{"x":50,"y":36,"d":10},{"x":51,"y":36,"d":17},{"x":52,"y":36,"d":12},{"x":53,"y":36,"d":16},{"x":54,"y":36,"d":13},{"x":55,"y":36,"d":9},{"x":56,"y":36,"d":10},{"x":57,"y":36,"d":10},{"x":58,"y":36,"d":10},{"x":59,"y":36,"d":14},{"x":60,"y":36,"d":14},{"x":61,"y":36,"d":9},{"x":62,"y":36,"d":13},{"x":63,"y":36,"d":19},{"x":64,"y":36,"d":13},{"x":65,"y":36,"d":19},{"x":66,"y":36,"d":14},{"x":73,"y":36,"d":19},{"x":74,"y":36,"d":19},{"x":75,"y":36,"d":19},{"x":76,"y":36,"d":14},{"x":77,"y":36,"d":19},{"x":78,"y":36,"d":19},{"x":79,"y":36,"d":16},{"x":80,"y":36,"d":16},{"x":81,"y":36,"d":19},{"x":82,"y":36,"d":19},
{"x":37,"y":37,"d":1},{"x":38,"y":37,"d":1},{"x":39,"y":37,"d":5},{"x":40,"y":37,"d":9},{"x":41,"y":37,"d":9},{"x":42,"y":37,"d":14},{"x":43,"y":37,"d":14},{"x":44,"y":37,"d":19},{"x":49,"y":37,"d":19},{"x":50,"y":37,"d":19},{"x":51,"y":37,"d":19},{"x":52,"y":37,"d":16},{"x":53,"y":37,"d":16},{"x":54,"y":37,"d":13},{"x":55,"y":37,"d":12},{"x":56,"y":37,"d":12},{"x":57,"y":37,"d":10},{"x":58,"y":37,"d":8},{"x":59,"y":37,"d":12},{"x":60,"y":37,"d":13},{"x":61,"y":37,"d":9},{"x":62,"y":37,"d":13},{"x":63,"y":37,"d":13},{"x":64,"y":37,"d":13},{"x":65,"y":37,"d":13},{"x":66,"y":37,"d":13},{"x":76,"y":37,"d":19},{"x":77,"y":37,"d":19},{"x":79,"y":37,"d":19},{"x":80,"y":37,"d":19},{"x":82,"y":37,"d":19},
{"x":38,"y":38,"d":1},{"x":39,"y":38,"d":1},{"x":40,"y":38,"d":9},{"x":41,"y":38,"d":9},{"x":42,"y":38,"d":16},{"x":43,"y":38,"d":16},{"x":44,"y":38,"d":19},{"x":52,"y":38,"d":17},{"x":53,"y":38,"d":17},{"x":54,"y":38,"d":16},{"x":55,"y":38,"d":10},{"x":56,"y":38,"d":10},{"x":57,"y":38,"d":7},{"x":58,"y":38,"d":5},{"x":59,"y":38,"d":9},{"x":60,"y":38,"d":9},{"x":61,"y":38,"d":9},{"x":62,"y":38,"d":16},{"x":63,"y":38,"d":13},{"x":64,"y":38,"d":13},{"x":65,"y":38,"d":13},{"x":75,"y":38,"d":19},{"x":76,"y":38,"d":19},{"x":77,"y":38,"d":19},{"x":79,"y":38,"d":19},{"x":80,"y":38,"d":17},{"x":81,"y":38,"d":19},{"x":82,"y":38,"d":19},{"x":83,"y":38,"d":16},
{"x":39,"y":39,"d":1},{"x":40,"y":39,"d":1},{"x":41,"y":39,"d":7},{"x":42,"y":39,"d":9},{"x":43,"y":39,"d":13},{"x":44,"y":39,"d":16},{"x":45,"y":39,"d":17},{"x":50,"y":39,"d":16},{"x":51,"y":39,"d":16},{"x":52,"y":39,"d":12},{"x":53,"y":39,"d":14},{"x":54,"y":39,"d":10},{"x":55,"y":39,"d":5},{"x":56,"y":39,"d":7},{"x":57,"y":39,"d":7},{"x":58,"y":39,"d":7},{"x":59,"y":39,"d":9},{"x":60,"y":39,"d":9},{"x":61,"y":39,"d":9},{"x":62,"y":39,"d":13},{"x":63,"y":39,"d":13},{"x":64,"y":39,"d":12},{"x":65,"y":39,"d":19},{"x":66,"y":39,"d":19},{"x":75,"y":39,"d":19},{"x":76,"y":39,"d":16},{"x":77,"y":39,"d":19},{"x":78,"y":39,"d":19},{"x":79,"y":39,"d":14},{"x":81,"y":39,"d":17},{"x":82,"y":39,"d":17},
{"x":40,"y":40,"d":1},{"x":41,"y":40,"d":1},{"x":42,"y":40,"d":8},{"x":43,"y":40,"d":10},{"x":44,"y":40,"d":14},{"x":45,"y":40,"d":17},{"x":46,"y":40,"d":19},{"x":49,"y":40,"d":19},{"x":50,"y":40,"d":16},{"x":51,"y":40,"d":16},{"x":52,"y":40,"d":13},{"x":53,"y":40,"d":13},{"x":54,"y":40,"d":10},{"x":55,"y":40,"d":8},{"x":56,"y":40,"d":4},{"x":57,"y":40,"d":8},{"x":58,"y":40,"d":5},{"x":59,"y":40,"d":10},{"x":60,"y":40,"d":8},{"x":61,"y":40,"d":5},{"x":62,"y":40,"d":9},{"x":63,"y":40,"d":12},{"x":65,"y":40,"d":12},{"x":66,"y":40,"d":12},{"x":67,"y":40,"d":13},{"x":68,"y":40,"d":19},{"x":74,"y":40,"d":19},{"x":75,"y":40,"d":19},{"x":76,"y":40,"d":14},{"x":77,"y":40,"d":19},{"x":78,"y":40,"d":19},{"x":79,"y":40,"d":14},{"x":80,"y":40,"d":13},{"x":81,"y":40,"d":19},{"x":82,"y":40,"d":19},{"x":84,"y":40,"d":16},
{"x":41,"y":41,"d":1},{"x":42,"y":41,"d":1},{"x":43,"y":41,"d":7},{"x":44,"y":41,"d":10},{"x":45,"y":41,"d":13},{"x":46,"y":41,"d":16},{"x":47,"y":41,"d":19},{"x":48,"y":41,"d":19},{"x":49,"y":41,"d":14},{"x":50,"y":41,"d":10},{"x":51,"y":41,"d":10},{"x":52,"y":41,"d":5},{"x":53,"y":41,"d":10},{"x":54,"y":41,"d":8},{"x":55,"y":41,"d":5},{"x":56,"y":41,"d":8},{"x":57,"y":41,"d":10},{"x":58,"y":41,"d":12},{"x":59,"y":41,"d":16},{"x":60,"y":41,"d":16},{"x":61,"y":41,"d":12},{"x":62,"y":41,"d":16},{"x":63,"y":41,"d":17},{"x":64,"y":41,"d":14},{"x":65,"y":41,"d":19},{"x":66,"y":41,"d":13},{"x":74,"y":41,"d":16},{"x":75,"y":41,"d":13},{"x":76,"y":41,"d":8},{"x":77,"y":41,"d":13},{"x":78,"y":41,"d":13},{"x":79,"y":41,"d":10},{"x":80,"y":41,"d":8},{"x":81,"y":41,"d":12},{"x":82,"y":41,"d":12},
{"x":42,"y":42,"d":1},{"x":43,"y":42,"d":1},{"x":44,"y":42,"d":8},{"x":45,"y":42,"d":12},{"x":46,"y":42,"d":14},{"x":47,"y":42,"d":17},{"x":48,"y":42,"d":17},{"x":49,"y":42,"d":16},{"x":50,"y":42,"d":13},{"x":51,"y":42,"d":10},{"x":52,"y":42,"d":8},{"x":53,"y":42,"d":5},{"x":54,"y":42,"d":4},{"x":55,"y":42,"d":8},{"x":56,"y":42,"d":7},{"x":57,"y":42,"d":12},{"x":58,"y":42,"d":14},{"x":59,"y":42,"d":16},{"x":60,"y":42,"d":14},{"x":61,"y":42,"d":14},{"x":62,"y":42,"d":19},{"x":63,"y":42,"d":19},{"x":64,"y":42,"d":19},{"x":74,"y":42,"d":19},{"x":75,"y":42,"d":17},{"x":76,"y":42,"d":13},{"x":77,"y":42,"d":14},{"x":78,"y":42,"d":19},{"x":79,"y":42,"d":14},{"x":80,"y":42,"d":13},{"x":81,"y":42,"d":19},{"x":82,"y":42,"d":19},{"x":84,"y":42,"d":16},
{"x":43,"y":43,"d":1},{"x":44,"y":43,"d":1},{"x":45,"y":43,"d":7},{"x":46,"y":43,"d":10},{"x":47,"y":43,"d":14},{"x":48,"y":43,"d":13},{"x":49,"y":43,"d":10},{"x":50,"y":43,"d":5},{"x":51,"y":43,"d":7},{"x":52,"y":43,"d":7},{"x":53,"y":43,"d":7},{"x":54,"y":43,"d":9},{"x":55,"y":43,"d":10},{"x":56,"y":43,"d":12},{"x":57,"y":43,"d":16},{"x":58,"y":43,"d":17},{"x":59,"y":43,"d":19},{"x":60,"y":43,"d":19},{"x":61,"y":43,"d":17},{"x":62,"y":43,"d":19},{"x":74,"y":43,"d":13},{"x":75,"y":43,"d":13},{"x":76,"y":43,"d":8},{"x":78,"y":43,"d":10},{"x":79,"y":43,"d":9},{"x":80,"y":43,"d":8},{"x":81,"y":43,"d":12},{"x":82,"y":43,"d":13},
{"x":44,"y":44,"d":1},{"x":45,"y":44,"d":1},{"x":46,"y":44,"d":8},{"x":47,"y":44,"d":10},{"x":48,"y":44,"d":10},{"x":49,"y":44,"d":10},{"x":50,"y":44,"d":7},{"x":51,"y":44,"d":5},{"x":52,"y":44,"d":8},{"x":53,"y":44,"d":5},{"x":54,"y":44,"d":9},{"x":55,"y":44,"d":13},{"x":56,"y":44,"d":14},{"x":57,"y":44,"d":19},{"x":58,"y":44,"d":19},{"x":59,"y":44,"d":16},{"x":60,"y":44,"d":12},{"x":61,"y":44,"d":19},{"x":76,"y":44,"d":10},{"x":78,"y":44,"d":17},{"x":79,"y":44,"d":12},{"x":80,"y":44,"d":12},{"x":81,"y":44,"d":17},{"x":82,"y":44,"d":19},{"x":83,"y":44,"d":14},
{"x":45,"y":45,"d":1},{"x":46,"y":45,"d":1},{"x":47,"y":45,"d":9},{"x":48,"y":45,"d":9},{"x":49,"y":45,"d":8},{"x":50,"y":45,"d":5},{"x":51,"y":45,"d":8},{"x":52,"y":45,"d":10},{"x":53,"y":45,"d":10},{"x":54,"y":45,"d":14},{"x":55,"y":45,"d":17},{"x":56,"y":45,"d":17},{"x":58,"y":45,"d":19},{"x":59,"y":45,"d":19},{"x":60,"y":45,"d":17},{"x":61,"y":45,"d":17},{"x":62,"y":45,"d":19},{"x":63,"y":45,"d":19},{"x":78,"y":45,"d":19},{"x":81,"y":45,"d":19},{"x":82,"y":45,"d":19},
{"x":46,"y":46,"d":1},{"x":47,"y":46,"d":1},{"x":48,"y":46,"d":5},{"x":49,"y":46,"d":5},{"x":50,"y":46,"d":8},{"x":51,"y":46,"d":8},{"x":52,"y":46,"d":12},{"x":53,"y":46,"d":12},{"x":54,"y":46,"d":16},{"x":55,"y":46,"d":19},{"x":56,"y":46,"d":19},{"x":57,"y":46,"d":19},{"x":59,"y":46,"d":19},{"x":60,"y":46,"d":19},{"x":61,"y":46,"d":19},{"x":62,"y":46,"d":19},{"x":78,"y":46,"d":19},{"x":79,"y":46,"d":19},{"x":80,"y":46,"d":17},{"x":81,"y":46,"d":19},
{"x":47,"y":47,"d":1},{"x":48,"y":47,"d":1},{"x":49,"y":47,"d":8},{"x":50,"y":47,"d":10},{"x":51,"y":47,"d":10},{"x":52,"y":47,"d":16},{"x":53,"y":47,"d":16},{"x":54,"y":47,"d":19},{"x":61,"y":47,"d":19},{"x":79,"y":47,"d":19},{"x":80,"y":47,"d":19},
{"x":48,"y":48,"d":1},{"x":49,"y":48,"d":1},{"x":50,"y":48,"d":8},{"x":51,"y":48,"d":10},{"x":52,"y":48,"d":14},{"x":53,"y":48,"d":14},{"x":54,"y":48,"d":19},{"x":55,"y":48,"d":19},{"x":76,"y":48,"d":16},{"x":79,"y":48,"d":19},{"x":80,"y":48,"d":19},
{"x":49,"y":49,"d":1},{"x":50,"y":49,"d":1},{"x":51,"y":49,"d":7},{"x":52,"y":49,"d":10},{"x":53,"y":49,"d":13},{"x":54,"y":49,"d":17},{"x":55,"y":49,"d":17},{"x":56,"y":49,"d":19},{"x":61,"y":49,"d":19},{"x":78,"y":49,"d":19},{"x":79,"y":49,"d":17},{"x":80,"y":49,"d":17},{"x":81,"y":49,"d":19},
{"x":50,"y":50,"d":1},{"x":51,"y":50,"d":1},{"x":52,"y":50,"d":8},{"x":53,"y":50,"d":10},{"x":54,"y":50,"d":14},{"x":55,"y":50,"d":14},{"x":56,"y":50,"d":16},{"x":57,"y":50,"d":19},{"x":59,"y":50,"d":19},{"x":60,"y":50,"d":19},{"x":61,"y":50,"d":19},{"x":78,"y":50,"d":19},{"x":80,"y":50,"d":16},{"x":81,"y":50,"d":19},{"x":82,"y":50,"d":19},
{"x":51,"y":51,"d":1},{"x":52,"y":51,"d":1},{"x":53,"y":51,"d":8},{"x":54,"y":51,"d":10},{"x":56,"y":51,"d":14},{"x":57,"y":51,"d":19},{"x":58,"y":51,"d":19},{"x":59,"y":51,"d":19},{"x":60,"y":51,"d":19},{"x":81,"y":51,"d":14},
{"x":52,"y":52,"d":1},{"x":53,"y":52,"d":1},{"x":54,"y":52,"d":8},{"x":55,"y":52,"d":7},{"x":56,"y":52,"d":10},{"x":57,"y":52,"d":13},{"x":58,"y":52,"d":16},{"x":59,"y":52,"d":19},{"x":60,"y":52,"d":16},{"x":61,"y":52,"d":16},{"x":78,"y":52,"d":17},{"x":81,"y":52,"d":16},{"x":82,"y":52,"d":19},
{"x":53,"y":53,"d":1},{"x":54,"y":53,"d":1},{"x":55,"y":53,"d":9},{"x":56,"y":53,"d":9},{"x":57,"y":53,"d":12},{"x":58,"y":53,"d":16},{"x":59,"y":53,"d":19},{"x":60,"y":53,"d":19},{"x":61,"y":53,"d":17},{"x":63,"y":53,"d":19},{"x":78,"y":53,"d":12},{"x":81,"y":53,"d":13},{"x":82,"y":53,"d":13},
{"x":54,"y":54,"d":1},{"x":55,"y":54,"d":1},{"x":56,"y":54,"d":7},{"x":57,"y":54,"d":10},{"x":58,"y":54,"d":14},{"x":59,"y":54,"d":16},{"x":60,"y":54,"d":12},{"x":61,"y":54,"d":14},{"x":62,"y":54,"d":17},{"x":63,"y":54,"d":19},{"x":64,"y":54,"d":19},{"x":74,"y":54,"d":19},{"x":78,"y":54,"d":17},{"x":81,"y":54,"d":17},{"x":82,"y":54,"d":19},
{"x":55,"y":55,"d":1},{"x":56,"y":55,"d":1},{"x":57,"y":55,"d":8},{"x":58,"y":55,"d":9},{"x":59,"y":55,"d":12},{"x":60,"y":55,"d":10},{"x":61,"y":55,"d":12},{"x":62,"y":55,"d":17},{"x":63,"y":55,"d":19},{"x":64,"y":55,"d":19},{"x":74,"y":55,"d":19},{"x":75,"y":55,"d":17},{"x":78,"y":55,"d":19},{"x":81,"y":55,"d":19},{"x":82,"y":55,"d":19},
{"x":56,"y":56,"d":1},{"x":57,"y":56,"d":1},{"x":58,"y":56,"d":8},{"x":59,"y":56,"d":9},{"x":60,"y":56,"d":4},{"x":61,"y":56,"d":5},{"x":62,"y":56,"d":9},{"x":63,"y":56,"d":13},{"x":64,"y":56,"d":13},{"x":65,"y":56,"d":13},{"x":66,"y":56,"d":17},{"x":68,"y":56,"d":19},{"x":69,"y":56,"d":19},{"x":70,"y":56,"d":19},{"x":71,"y":56,"d":19},{"x":72,"y":56,"d":19},{"x":73,"y":56,"d":19},{"x":74,"y":56,"d":19},{"x":75,"y":56,"d":19},{"x":76,"y":56,"d":14},{"x":77,"y":56,"d":17},{"x":78,"y":56,"d":19},{"x":79,"y":56,"d":19},{"x":80,"y":56,"d":16},{"x":81,"y":56,"d":19},{"x":82,"y":56,"d":19},{"x":83,"y":56,"d":19},{"x":84,"y":56,"d":19},
{"x":57,"y":57,"d":1},{"x":58,"y":57,"d":1},{"x":59,"y":57,"d":5},{"x":60,"y":57,"d":5},{"x":61,"y":57,"d":8},{"x":62,"y":57,"d":9},{"x":63,"y":57,"d":13},{"x":64,"y":57,"d":13},{"x":65,"y":57,"d":17},
{"x":58,"y":58,"d":1},{"x":59,"y":58,"d":1},{"x":60,"y":58,"d":8},{"x":61,"y":58,"d":5},{"x":62,"y":58,"d":9},{"x":63,"y":58,"d":10},{"x":65,"y":58,"d":14},{"x":66,"y":58,"d":16},{"x":67,"y":58,"d":19},{"x":76,"y":58,"d":19},{"x":77,"y":58,"d":19},{"x":79,"y":58,"d":19},{"x":80,"y":58,"d":19},{"x":83,"y":58,"d":17},
{"x":59,"y":59,"d":1},{"x":60,"y":59,"d":1},{"x":61,"y":59,"d":8},{"x":62,"y":59,"d":10},{"x":63,"y":59,"d":12},{"x":64,"y":59,"d":13},{"x":65,"y":59,"d":14},{"x":66,"y":59,"d":19},{"x":76,"y":59,"d":19},{"x":79,"y":59,"d":19},{"x":80,"y":59,"d":19},
{"x":60,"y":60,"d":1},{"x":61,"y":60,"d":1},{"x":62,"y":60,"d":8},{"x":63,"y":60,"d":10},{"x":64,"y":60,"d":13},{"x":65,"y":60,"d":14},{"x":66,"y":60,"d":14},{"x":67,"y":60,"d":19},{"x":76,"y":60,"d":19},{"x":79,"y":60,"d":19},{"x":80,"y":60,"d":19},
{"x":61,"y":61,"d":1},{"x":62,"y":61,"d":1},{"x":63,"y":61,"d":8},{"x":64,"y":61,"d":10},{"x":66,"y":61,"d":14},{"x":67,"y":61,"d":14},{"x":68,"y":61,"d":17},{"x":78,"y":61,"d":19},{"x":79,"y":61,"d":19},{"x":80,"y":61,"d":19},
{"x":62,"y":62,"d":1},{"x":63,"y":62,"d":1},{"x":64,"y":62,"d":8},{"x":65,"y":62,"d":10},{"x":66,"y":62,"d":12},{"x":69,"y":62,"d":17},{"x":70,"y":62,"d":19},{"x":80,"y":62,"d":19},
{"x":63,"y":63,"d":1},{"x":64,"y":63,"d":1},{"x":65,"y":63,"d":8},{"x":66,"y":63,"d":10},{"x":67,"y":63,"d":13},{"x":68,"y":63,"d":16},{"x":69,"y":63,"d":17},{"x":70,"y":63,"d":19},
{"x":64,"y":64,"d":1},{"x":65,"y":64,"d":1},{"x":66,"y":64,"d":8},{"x":67,"y":64,"d":10},{"x":68,"y":64,"d":12},{"x":69,"y":64,"d":16},{"x":70,"y":64,"d":17},{"x":71,"y":64,"d":19},{"x":72,"y":64,"d":19},
{"x":65,"y":65,"d":1},{"x":66,"y":65,"d":1},{"x":67,"y":65,"d":8},{"x":68,"y":65,"d":10},{"x":69,"y":65,"d":13},{"x":70,"y":65,"d":16},{"x":71,"y":65,"d":19},{"x":72,"y":65,"d":14},
{"x":66,"y":66,"d":1},{"x":67,"y":66,"d":1},{"x":68,"y":66,"d":8},{"x":69,"y":66,"d":10},{"x":70,"y":66,"d":13},{"x":71,"y":66,"d":16},{"x":73,"y":66,"d":16},
{"x":67,"y":67,"d":1},{"x":68,"y":67,"d":1},{"x":69,"y":67,"d":8},{"x":70,"y":67,"d":10},{"x":71,"y":67,"d":13},{"x":72,"y":67,"d":13},{"x":73,"y":67,"d":13},
{"x":68,"y":68,"d":1},{"x":69,"y":68,"d":1},{"x":70,"y":68,"d":8},{"x":71,"y":68,"d":10},{"x":72,"y":68,"d":13},{"x":73,"y":68,"d":14},{"x":74,"y":68,"d":14},{"x":75,"y":68,"d":14},
{"x":69,"y":69,"d":1},{"x":70,"y":69,"d":1},{"x":71,"y":69,"d":8},{"x":72,"y":69,"d":10},{"x":73,"y":69,"d":13},{"x":74,"y":69,"d":14},{"x":75,"y":69,"d":10},{"x":80,"y":69,"d":19},{"x":81,"y":69,"d":19},
{"x":70,"y":70,"d":1},{"x":71,"y":70,"d":1},{"x":72,"y":70,"d":8},{"x":73,"y":70,"d":10},{"x":74,"y":70,"d":13},{"x":75,"y":70,"d":10},{"x":76,"y":70,"d":10},{"x":77,"y":70,"d":14},{"x":78,"y":70,"d":14},{"x":79,"y":70,"d":14},{"x":80,"y":70,"d":14},{"x":81,"y":70,"d":19},{"x":82,"y":70,"d":19},
{"x":71,"y":71,"d":1},{"x":72,"y":71,"d":1},{"x":73,"y":71,"d":8},{"x":74,"y":71,"d":10},{"x":76,"y":71,"d":10},{"x":77,"y":71,"d":14},{"x":78,"y":71,"d":10},{"x":79,"y":71,"d":12},{"x":81,"y":71,"d":14},{"x":82,"y":71,"d":17},{"x":83,"y":71,"d":19},
{"x":72,"y":72,"d":1},{"x":73,"y":72,"d":1},{"x":74,"y":72,"d":5},{"x":75,"y":72,"d":5},{"x":78,"y":72,"d":10},{"x":79,"y":72,"d":10},{"x":80,"y":72,"d":13},{"x":81,"y":72,"d":14},{"x":82,"y":72,"d":14},{"x":83,"y":72,"d":17},
{"x":73,"y":73,"d":1},{"x":74,"y":73,"d":1},{"x":75,"y":73,"d":8},{"x":77,"y":73,"d":13},{"x":78,"y":73,"d":10},{"x":79,"y":73,"d":10},{"x":80,"y":73,"d":10},{"x":81,"y":73,"d":16},{"x":82,"y":73,"d":16},{"x":83,"y":73,"d":17},{"x":84,"y":73,"d":19},
{"x":74,"y":74,"d":1},{"x":75,"y":74,"d":1},{"x":76,"y":74,"d":8},{"x":78,"y":74,"d":9},{"x":79,"y":74,"d":9},{"x":80,"y":74,"d":9},{"x":81,"y":74,"d":9},{"x":82,"y":74,"d":13},{"x":83,"y":74,"d":16},{"x":84,"y":74,"d":17},
{"x":75,"y":75,"d":1},{"x":76,"y":75,"d":1},{"x":77,"y":75,"d":5},{"x":78,"y":75,"d":4},{"x":79,"y":75,"d":7},{"x":80,"y":75,"d":10},{"x":81,"y":75,"d":10},{"x":82,"y":75,"d":10},{"x":83,"y":75,"d":13},{"x":84,"y":75,"d":16},
{"x":76,"y":76,"d":1},{"x":77,"y":76,"d":1},{"x":78,"y":76,"d":8},{"x":79,"y":76,"d":5},{"x":80,"y":76,"d":7},{"x":81,"y":76,"d":9},{"x":82,"y":76,"d":9},{"x":83,"y":76,"d":9},{"x":84,"y":76,"d":14},
{"x":77,"y":77,"d":1},{"x":78,"y":77,"d":1},{"x":79,"y":77,"d":8},{"x":80,"y":77,"d":5},{"x":81,"y":77,"d":7},{"x":82,"y":77,"d":9},{"x":83,"y":77,"d":9},{"x":84,"y":77,"d":9},
{"x":78,"y":78,"d":1},{"x":79,"y":78,"d":1},{"x":80,"y":78,"d":8},{"x":81,"y":78,"d":5},{"x":82,"y":78,"d":7},{"x":83,"y":78,"d":10},{"x":84,"y":78,"d":12},
{"x":79,"y":79,"d":1},{"x":80,"y":79,"d":1},{"x":81,"y":79,"d":8},{"x":82,"y":79,"d":5},{"x":83,"y":79,"d":7},{"x":84,"y":79,"d":9},
{"x":80,"y":80,"d":1},{"x":81,"y":80,"d":1},{"x":82,"y":80,"d":8},{"x":83,"y":80,"d":5},{"x":84,"y":80,"d":7},
{"x":81,"y":81,"d":1},{"x":82,"y":81,"d":1},{"x":83,"y":81,"d":8},{"x":84,"y":81,"d":5},
{"x":82,"y":82,"d":1},{"x":83,"y":82,"d":1},{"x":84,"y":82,"d":8},
{"x":83,"y":83,"d":1},{"x":84,"y":83,"d":1},{"x":84,"y":84,"d":1}
]},"config":{"font":"Liberation Sans","axis":{"labelFont":"Liberation Sans","titleFont":"Liberation Sans","grid":false}},"hconcat":[{"width":1698,"height":1697,"view":{"fill":"#0000ff","stroke":"#222222"},"data":{"name":"cells"},"resolve":{"axis":{"x":"independent","y":"independent"}},"layer":[{"mark":{"type":"rect","strokeWidth":0.7},"encoding":{"x":{"field":"x","type":"ordinal","scale":{"domain":[1,2,3,4,5,6,7,8,9,10,11,12,13,14,15,16,17,18,19,20,21,22,23,24,25,26,27,28,29,30,31,32,33,34,35,36,37,38,39,40,41,42,43,44,45,46,47,48,49,50,51,52,53,54,55,56,57,58,59,60,61,62,63,64,65,66,67,68,69,70,71,72,73,74,75,76,77,78,79,80,81,82,83,84],"paddingInner":0,"paddingOuter":0},"axis":{"values":[20,40,60,80],"orient":"bottom","title":"Residue index","labelAngle":0,"labelFontSize":59,"labelFontWeight":"bold","titleFontSize":60,"titleFontWeight":"bold","tickSize":6,"tickColor":"#444444","labelPadding":0,"titlePadding":-1,"domain":false,"labelColor":"black","titleColor":"black"}},"y":{"field":"y","type":"ordinal","sort":"descending","scale":{"domain":[84,83,82,81,80,79,78,77,76,75,74,73,72,71,70,69,68,67,66,65,64,63,62,61,60,59,58,57,56,55,54,53,52,51,50,49,48,47,46,45,44,43,42,41,40,39,38,37,36,35,34,33,32,31,30,29,28,27,26,25,24,23,22,21,20,19,18,17,16,15,14,13,12,11,10,9,8,7,6,5,4,3,2,1],"paddingInner":0,"paddingOuter":0},"axis":{"values":[20,40,60,80],"orient":"left","title":"Residue index","labelFontSize":59,"labelFontWeight":"bold","titleFontSize":60,"titleFontWeight":"bold","tickSize":6,"tickColor":"#444444","labelPadding":7,"titlePadding":-2,"domain":false,"labelColor":"black","titleColor":"black"}},"color":{"field":"d","type":"quantitative","legend":null,"scale":{"type":"threshold","domain":[2.02,3.31,4.59,5.87,7.15,8.44,9.72,11,12.3,13.6,14.9,16.1,17.4,18.7,20],"range":["#ff0000","#ff2200","#ff4800","#ff6400","#ff8500","#ffa500","#a6bf80","#9db788","#93ae8d","#89a792","#7fa099","#78999f","#7093a6","#668cad","#5a86b8","#0000ff"]}},"stroke":{"field":"d","type":"quantitative","legend":null,"scale":{"type":"threshold","domain":[2.02,3.31,4.59,5.87,7.15,8.44,9.72,11,12.3,13.6,14.9,16.1,17.4,18.7,20],"range":["#ff0000","#ff2200","#ff4800","#ff6400","#ff8500","#ffa500","#a6bf80","#9db788","#93ae8d","#89a792","#7fa099","#78999f","#7093a6","#668cad","#5a86b8","#0000ff"]}}}},{"mark":{"type":"rect","strokeWidth":0.7},"encoding":{"x":{"field":"y","type":"ordinal","scale":{"domain":[1,2,3,4,5,6,7,8,9,10,11,12,13,14,15,16,17,18,19,20,21,22,23,24,25,26,27,28,29,30,31,32,33,34,35,36,37,38,39,40,41,42,43,44,45,46,47,48,49,50,51,52,53,54,55,56,57,58,59,60,61,62,63,64,65,66,67,68,69,70,71,72,73,74,75,76,77,78,79,80,81,82,83,84],"paddingInner":0,"paddingOuter":0},"axis":{"values":[20,40,60,80],"orient":"top","title":null,"labels":false,"tickSize":6,"tickColor":"#444444","domain":false}},"y":{"field":"x","type":"ordinal","scale":{"domain":[84,83,82,81,80,79,78,77,76,75,74,73,72,71,70,69,68,67,66,65,64,63,62,61,60,59,58,57,56,55,54,53,52,51,50,49,48,47,46,45,44,43,42,41,40,39,38,37,36,35,34,33,32,31,30,29,28,27,26,25,24,23,22,21,20,19,18,17,16,15,14,13,12,11,10,9,8,7,6,5,4,3,2,1],"paddingInner":0,"paddingOuter":0},"axis":{"values":[20,40,60,80],"orient":"right","title":null,"labels":false,"tickSize":6,"tickColor":"#444444","domain":false}},"color":{"field":"d","type":"quantitative","legend":null,"scale":{"type":"threshold","domain":[2.02,3.31,4.59,5.87,7.15,8.44,9.72,11,12.3,13.6,14.9,16.1,17.4,18.7,20],"range":["#ff0000","#ff2200","#ff4800","#ff6400","#ff8500","#ffa500","#a6bf80","#9db788","#93ae8d","#89a792","#7fa099","#78999f","#7093a6","#668cad","#5a86b8","#0000ff"]}},"stroke":{"field":"d","type":"quantitative","legend":null,"scale":{"type":"threshold","domain":[2.02,3.31,4.59,5.87,7.15,8.44,9.72,11,12.3,13.6,14.9,16.1,17.4,18.7,20],"range":["#ff0000","#ff2200","#ff4800","#ff6400","#ff8500","#ffa500","#a6bf80","#9db788","#93ae8d","#89a792","#7fa099","#78999f","#7093a6","#668cad","#5a86b8","#0000ff"]}}}}]},{"width":13,"height":1697,"view":{"stroke":"#222222"},"data":{"values":[{"lo":0.74,"hi":2.02,"d":1},{"lo":2.02,"hi":3.31,"d":3},{"lo":3.31,"hi":4.59,"d":4},{"lo":4.59,"hi":5.87,"d":5},{"lo":5.87,"hi":7.15,"d":7},{"lo":7.15,"hi":8.44,"d":8},{"lo":8.44,"hi":9.72,"d":9},{"lo":9.72,"hi":11,"d":10},{"lo":11,"hi":12.3,"d":12},{"lo":12.3,"hi":13.6,"d":13},{"lo":13.6,"hi":14.9,"d":14},{"lo":14.9,"hi":16.1,"d":16},{"lo":16.1,"hi":17.4,"d":17},{"lo":17.4,"hi":18.7,"d":18},{"lo":18.7,"hi":20,"d":19},{"lo":20,"hi":21.26,"d":21}]},"mark":{"type":"rect"},"encoding":{"y":{"field":"lo","type":"quantitative","scale":{"domain":[0.74,21.26],"nice":false,"zero":false},"axis":{"values":[5,10,15,20],"orient":"right","title":null,"labelFontSize":50,"labelFontWeight":"bold","tickSize":4,"tickColor":"#444444","labelPadding":5,"domain":false,"labelColor":"black","format":"d","grid":false}},"y2":{"field":"hi"},"color":{"field":"d","type":"quantitative","legend":null,"scale":{"type":"threshold","domain":[2.02,3.31,4.59,5.87,7.15,8.44,9.72,11,12.3,13.6,14.9,16.1,17.4,18.7,20],"range":["#ff0000","#ff2200","#ff4800","#ff6400","#ff8500","#ffa500","#a6bf80","#9db788","#93ae8d","#89a792","#7fa099","#78999f","#7093a6","#668cad","#5a86b8","#0000ff"]}}}}]}
